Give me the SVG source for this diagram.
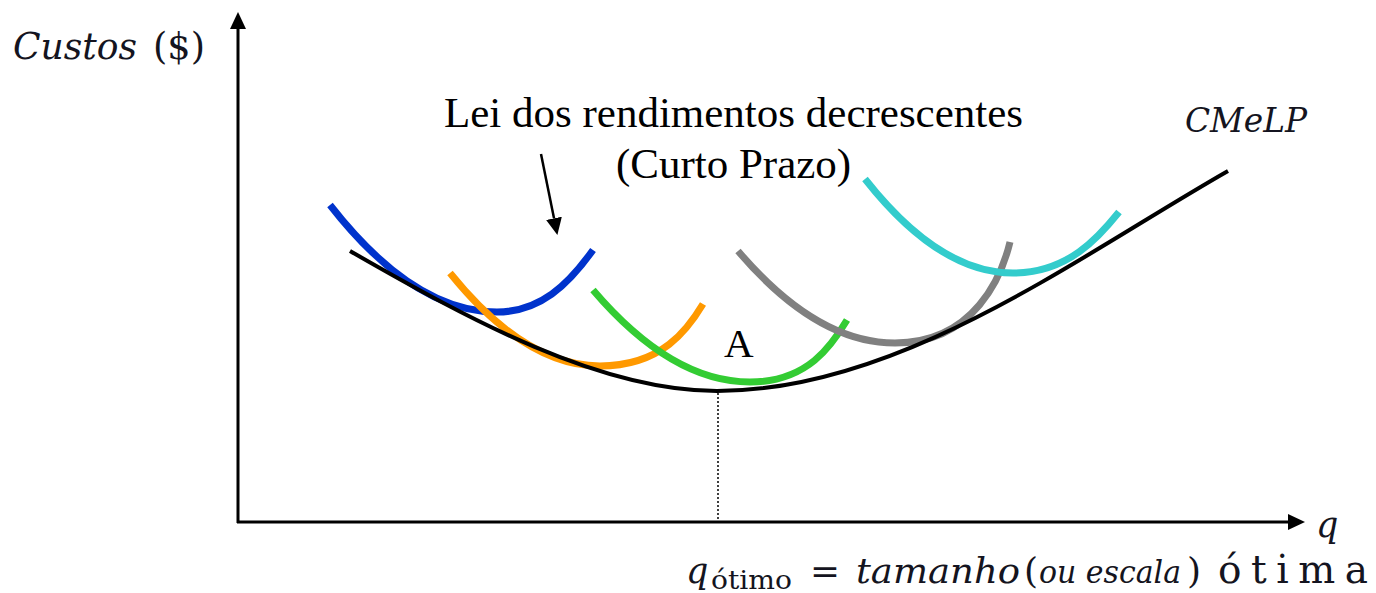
<svg xmlns="http://www.w3.org/2000/svg" width="1376" height="593" viewBox="0 0 1376 593">
  <style>
    .axis { stroke: #000; stroke-width: 3; fill: none; }
    .pointer { stroke: #000; stroke-width: 2.5; fill: none; }
    .lrac { stroke: #000; stroke-width: 4; fill: none; }
    .srac { stroke-width: 7; fill: none; stroke-linecap: butt; }
    .guide { stroke: #000; stroke-width: 1.5; stroke-dasharray: 2 2; fill: none; }
    .tnr { font-family: "Liberation Serif", "Times New Roman", serif; fill: #000; }
    .math { font-family: "DejaVu Serif", "Liberation Serif", serif; fill: #141420; }
    .it { font-style: italic; }
  </style>
  <defs>
    <marker id="arrow" markerUnits="userSpaceOnUse" markerWidth="17" markerHeight="16" refX="0" refY="8" orient="auto" viewBox="0 0 17 16">
      <path d="M0,0 L17,8 L0,16 Z" fill="#000"/>
    </marker>
  </defs>
  <rect width="1376" height="593" fill="#fff"/>

  <g id="axes">
    <line class="axis" x1="238" y1="523" x2="238" y2="29" marker-end="url(#arrow)"/>
    <line class="axis" x1="237" y1="522" x2="1288" y2="522" marker-end="url(#arrow)"/>
    <line class="guide" x1="718" y1="393" x2="718" y2="521"/>
  </g>

  <g id="short-run-curves">
    <path id="cme-blue" class="srac" stroke="#0033CC" d="M330,205 Q413.5,312 497,312 C540,312 568,285 593,250"/>
    <path id="cme-orange" class="srac" stroke="#FF9900" d="M450,273 Q525,366 600,366 C662,366 688,329 703,304"/>
    <path id="cme-green" class="srac" stroke="#33CC33" d="M593,290 Q671.5,382 750,382 C808,382 832,345 847,320"/>
    <path id="cme-gray" class="srac" stroke="#808080" d="M738,251 Q816.5,343 895,343 C975,343 1002,275 1010,242"/>
    <path id="cme-cyan" class="srac" stroke="#33CCCC" d="M865,179 Q939,273 1013,273 C1068,273 1099,237 1119,212"/>
  </g>

  <g id="long-run-curve">
    <path class="lrac" d="M350,251 C470,320 600,391 717,391 C900,391 1078,256.5 1228,171"/>
  </g>

  <g id="connectors">
    <line class="pointer" x1="541" y1="154" x2="554" y2="218.3" marker-end="url(#arrow)"/>
  </g>

  <g id="label-custos">
    <text class="math it" x="13" y="59" font-size="38" textLength="124" lengthAdjust="spacingAndGlyphs">Custos</text>
    <text class="math" x="153" y="59" font-size="38" textLength="52" lengthAdjust="spacingAndGlyphs">($)</text>
  </g>

  <g id="label-lei">
    <text class="tnr" x="733.5" y="127" font-size="43" text-anchor="middle">Lei dos rendimentos decrescentes</text>
    <text class="tnr" x="733.5" y="178" font-size="43" text-anchor="middle">(Curto Prazo)</text>
  </g>

  <g id="label-cmelp">
    <text class="math it" x="1185" y="132" font-size="34" textLength="122" lengthAdjust="spacingAndGlyphs">CMeLP</text>
  </g>

  <g id="label-a">
    <text class="tnr" x="724" y="357" font-size="41">A</text>
  </g>

  <g id="label-q">
    <text class="math it" x="1316" y="537" font-size="35">q</text>
  </g>

  <g id="label-qotimo">
    <text class="math it" x="686" y="583" font-size="35">q</text>
    <text class="math" x="711" y="589" font-size="26" textLength="81" lengthAdjust="spacingAndGlyphs">ótimo</text>
    <text class="math" x="810" y="583" font-size="35" textLength="30" lengthAdjust="spacingAndGlyphs">=</text>
    <text class="math it" x="856" y="583" font-size="36" textLength="164" lengthAdjust="spacingAndGlyphs">tamanho</text>
    <text class="math" x="1024" y="583" font-size="36">(</text>
    <text class="math it" x="1039" y="583" font-size="32" textLength="142" lengthAdjust="spacingAndGlyphs">ou escala</text>
    <text class="math" x="1187" y="583" font-size="36">)</text>
    <text class="math" x="1218" y="583" font-size="39" textLength="150" lengthAdjust="spacing">ótima</text>
  </g>
</svg>
